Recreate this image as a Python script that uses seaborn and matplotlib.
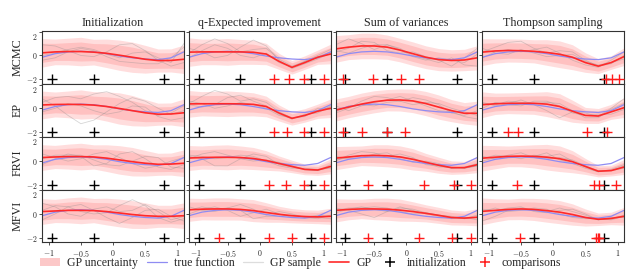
import numpy as np
import pandas as pd
import matplotlib
matplotlib.use("Agg")
import matplotlib.pyplot as plt
import seaborn as sns
from matplotlib.lines import Line2D
from matplotlib.patches import Patch

# ---------------- data ----------------
methods = ["MCMC", "EP", "FRVI", "MFVI"]
strategies = ["Initialization", "q-Expected improvement", "Sum of variances", "Thompson sampling"]
x_grid = [-1.1, -0.9, -0.7, -0.5, -0.3, -0.1, 0.1, 0.3, 0.5, 0.7, 0.9, 1.1]
true_function = [-0.15, 0.15, 0.3, 0.35, 0.3, 0.15, -0.05, -0.2, -0.3, -0.35, -0.2, 0.3]
x_ticks = [-1, -0.5, 0, 0.5, 1]
y_ticks = [-2, 0, 2]
marker_level = -2
init_points = [-0.95, -0.3, 0.79]

# comparisons per method (rows) and strategy (cols)
comp_mcmc = [[], [0.22, 0.45, 0.69, 1.0], [-0.98, -0.52, -0.08, 0.19], [0.82, 0.92, 1.02]]
comp_ep = [[], [0.22, 0.42, 0.69, 1.0], [-0.98, -0.69, -0.31, -0.02], [-0.7, -0.54, 0.52, 0.84]]
comp_frvi = [[], [0.14, 0.41, 0.69, 1.0], [-0.6, 0.27, 0.74, 1.01], [-0.57, 0.63, 0.71, 0.98]]
comp_mfvi = [[], [-0.64, 0.14, 0.5, 1.0], [-0.6, 0.19, 0.7, 1.0], [-0.51, 0.66, 0.69, 0.71]]

mean_mcmc = [
    [0.22, 0.3, 0.33, 0.33, 0.28, 0.18, 0.02, -0.15, -0.32, -0.43, -0.42, -0.32],
    [0.28, 0.3, 0.3, 0.3, 0.3, 0.27, 0.12, -0.5, -1.0, -0.6, -0.15, 0.12],
    [0.55, 0.7, 0.8, 0.8, 0.7, 0.45, 0.15, -0.15, -0.35, -0.42, -0.38, -0.2],
    [0.28, 0.38, 0.42, 0.4, 0.35, 0.25, 0.1, -0.15, -0.6, -0.9, -0.6, -0.1],
]
mean_ep = [
    [0.28, 0.32, 0.33, 0.32, 0.27, 0.15, -0.02, -0.2, -0.38, -0.5, -0.48, -0.38],
    [0.37, 0.38, 0.38, 0.38, 0.37, 0.33, 0.15, -0.4, -0.85, -0.6, -0.25, 0.0],
    [-0.15, 0.1, 0.35, 0.55, 0.68, 0.7, 0.62, 0.4, 0.1, -0.2, -0.42, -0.42],
    [0.3, 0.38, 0.42, 0.42, 0.42, 0.35, 0.15, -0.25, -0.6, -0.65, -0.3, 0.05],
]
mean_frvi = [
    [0.3, 0.35, 0.38, 0.38, 0.35, 0.25, 0.1, -0.05, -0.18, -0.27, -0.25, -0.18],
    [0.26, 0.3, 0.32, 0.32, 0.3, 0.22, 0.05, -0.2, -0.45, -0.7, -0.75, -0.45],
    [0.25, 0.35, 0.45, 0.48, 0.45, 0.35, 0.15, -0.1, -0.35, -0.55, -0.55, -0.3],
    [0.25, 0.33, 0.4, 0.42, 0.4, 0.33, 0.2, -0.05, -0.45, -0.85, -0.8, -0.5],
]
mean_mfvi = [
    [0.2, 0.25, 0.3, 0.3, 0.28, 0.2, 0.08, -0.05, -0.15, -0.2, -0.2, -0.15],
    [0.35, 0.4, 0.42, 0.42, 0.38, 0.28, 0.12, -0.03, -0.15, -0.22, -0.25, -0.2],
    [0.3, 0.38, 0.42, 0.42, 0.4, 0.32, 0.2, 0.05, -0.12, -0.3, -0.35, -0.28],
    [0.22, 0.3, 0.38, 0.42, 0.38, 0.28, 0.15, -0.05, -0.3, -0.45, -0.38, -0.2],
]

sd_mcmc = [
    [0.8, 0.72, 0.75, 0.8, 0.72, 0.8, 0.85, 0.85, 0.78, 0.65, 0.65, 0.8],
    [0.8, 0.72, 0.72, 0.75, 0.7, 0.68, 0.6, 0.45, 0.38, 0.38, 0.4, 0.55],
    [0.75, 0.7, 0.72, 0.72, 0.68, 0.66, 0.66, 0.64, 0.62, 0.6, 0.6, 0.68],
    [0.75, 0.68, 0.65, 0.65, 0.65, 0.72, 0.75, 0.7, 0.55, 0.42, 0.38, 0.5],
]
sd_ep = [
    [0.78, 0.7, 0.75, 0.82, 0.75, 0.82, 0.88, 0.85, 0.75, 0.62, 0.62, 0.78],
    [0.75, 0.68, 0.7, 0.72, 0.68, 0.65, 0.58, 0.45, 0.38, 0.38, 0.4, 0.52],
    [0.62, 0.6, 0.62, 0.62, 0.6, 0.62, 0.66, 0.68, 0.68, 0.62, 0.6, 0.68],
    [0.72, 0.6, 0.58, 0.6, 0.62, 0.7, 0.72, 0.62, 0.45, 0.42, 0.42, 0.55],
]
sd_frvi = [
    [0.72, 0.65, 0.7, 0.75, 0.68, 0.75, 0.8, 0.8, 0.72, 0.62, 0.62, 0.75],
    [0.7, 0.65, 0.68, 0.7, 0.65, 0.62, 0.55, 0.42, 0.35, 0.3, 0.3, 0.42],
    [0.65, 0.6, 0.55, 0.6, 0.62, 0.62, 0.6, 0.5, 0.45, 0.38, 0.35, 0.45],
    [0.72, 0.65, 0.58, 0.6, 0.65, 0.72, 0.72, 0.62, 0.45, 0.32, 0.3, 0.42],
]
sd_mfvi = [
    [0.72, 0.65, 0.7, 0.75, 0.68, 0.75, 0.78, 0.78, 0.72, 0.62, 0.62, 0.72],
    [0.65, 0.6, 0.62, 0.62, 0.6, 0.62, 0.55, 0.45, 0.4, 0.38, 0.38, 0.45],
    [0.65, 0.58, 0.55, 0.6, 0.62, 0.62, 0.55, 0.48, 0.45, 0.42, 0.4, 0.48],
    [0.75, 0.65, 0.58, 0.6, 0.62, 0.65, 0.65, 0.6, 0.48, 0.35, 0.35, 0.5],
]

samples_mcmc = [
    [[0.9, 0.8, 0.4, 0.0, -0.1, 0.3, 0.9, 1.0, 0.4, -0.4, -0.9, -0.6],
     [-0.4, -0.2, 0.3, 0.6, 0.4, -0.1, -0.5, -0.6, -0.7, -0.7, -0.2, 0.7],
     [0.0, 0.2, 0.5, 0.7, 0.5, 0.1, -0.2, 0.2, 0.3, -0.2, -0.6, 1.0]],
    [[0.2, 0.9, 1.4, 1.0, 0.3, 0.5, 0.6, -0.3, -0.9, -0.5, -0.1, 0.3],
     [0.6, 0.3, -0.2, 0.0, 0.7, 1.3, 0.8, -0.4, -1.1, -0.7, -0.3, 0.2],
     [-0.2, 0.4, 0.9, 0.6, 0.0, -0.2, 0.2, -0.6, -1.0, -0.5, 0.0, 0.5]],
    [[0.9, 1.4, 1.0, 0.5, 0.9, 0.6, 0.0, -0.3, -0.6, -0.2, -0.8, -0.9],
     [0.3, 0.6, 1.2, 1.1, 0.4, 0.2, 0.3, -0.1, -0.4, -0.9, -0.2, 0.6],
     [0.4, 0.2, 0.6, 0.9, 0.9, 0.5, -0.1, -0.4, -0.2, -0.4, -0.6, 0.1]],
    [[0.3, 0.7, 1.1, 1.2, 0.6, 0.2, 0.4, 0.3, -0.4, -0.9, -0.7, 0.0],
     [-0.2, 0.3, 0.5, 0.3, 0.5, 0.7, 0.2, -0.4, -0.8, -1.0, -0.4, 0.3],
     [0.6, 0.2, 0.1, 0.5, 0.2, -0.1, 0.0, 0.1, -0.5, -0.8, -0.6, -0.3]],
]
samples_ep = [
    [[0.5, 0.9, 1.0, 0.8, 1.2, 1.4, 1.0, 0.5, -0.2, -0.6, -0.4, 0.2],
     [-0.3, 0.0, 0.4, 0.2, -0.2, -0.5, -0.3, 0.2, 0.1, -0.7, -1.0, -0.8],
     [0.8, 0.2, -0.6, -1.3, -1.0, -0.3, 0.4, 0.9, 0.6, 0.0, -0.5, -0.2]],
    [[0.4, 1.0, 1.5, 1.2, 0.6, 0.8, 0.5, -0.3, -0.8, -0.6, -0.2, 0.1],
     [0.3, 0.1, 0.3, 0.9, 1.1, 0.6, 0.2, -0.5, -0.9, -0.5, -0.4, 0.2],
     [0.6, 0.4, 0.0, 0.2, 0.5, 0.3, 0.0, -0.6, -0.8, -0.7, 0.0, -0.1]],
    [[-0.4, 0.0, 0.6, 1.0, 0.9, 0.6, 0.9, 0.7, 0.3, -0.4, -0.6, -0.2],
     [0.2, -0.2, 0.2, 0.5, 0.7, 1.0, 0.6, 0.2, -0.2, -0.3, -0.7, -0.9],
     [-0.3, 0.2, 0.3, 0.2, 0.5, 0.6, 0.3, 0.5, 0.4, 0.0, -0.3, -0.6]],
    [[0.5, 0.2, 0.4, 0.7, 0.3, -0.2, -0.8, -0.3, -0.4, -0.7, 0.0, 0.8],
     [0.0, 0.5, 0.3, 0.2, 0.6, 0.6, 0.2, -0.4, -0.6, -0.5, -0.5, -0.1],
     [0.4, 0.3, 0.6, 0.5, 0.4, 0.5, 0.4, -0.2, -0.8, -0.8, -0.1, 0.4]],
]
samples_frvi = [
    [[-0.3, 0.2, 0.6, 0.4, -0.4, -0.2, 0.6, 0.8, 0.2, -0.5, -0.7, -0.3],
     [0.6, 0.3, 0.0, 0.2, 0.6, 0.8, 0.3, -0.2, -0.6, -0.4, 0.0, 0.3],
     [0.2, 0.5, 0.5, 0.5, 0.1, -0.3, -0.4, 0.0, 0.4, 0.3, -0.5, -0.6]],
    [[0.4, 0.2, -0.4, -0.4, 0.2, 0.6, 0.4, -0.3, -0.5, -0.7, -0.8, -0.5],
     [0.2, 0.6, 0.8, 0.5, 0.2, 0.0, 0.1, -0.1, -0.4, -0.7, -0.8, -0.3],
     [0.5, 0.4, 0.2, 0.3, 0.5, 0.4, 0.0, -0.4, -0.6, -0.6, -0.7, -0.6]],
    [[0.0, 0.5, 0.8, 0.7, 0.3, 0.4, 0.2, -0.2, -0.5, -0.5, -0.6, -0.4],
     [0.4, 0.2, 0.3, 0.6, 0.7, 0.2, -0.1, 0.0, -0.2, -0.6, -0.5, -0.2],
     [0.1, 0.3, 0.5, 0.3, 0.4, 0.6, 0.3, -0.3, -0.4, -0.6, -0.6, -0.4]],
    [[0.2, 0.5, 0.4, 0.2, 0.5, 0.4, 0.6, 0.0, -0.5, -0.9, -0.8, -0.4],
     [0.4, 0.2, 0.5, 0.7, 0.3, 0.2, 0.3, 0.1, -0.4, -0.8, -0.8, -0.6],
     [0.0, 0.3, 0.3, 0.4, 0.4, 0.7, 0.1, -0.2, -0.6, -0.9, -0.7, -0.3]],
]
samples_mfvi = [
    [[0.9, 0.6, 0.0, -0.2, 0.4, 0.6, 0.2, 0.3, 0.8, 0.2, -0.5, -0.2],
     [-0.5, 0.0, 0.6, 0.8, 0.3, -0.3, -0.8, -0.3, 0.3, 0.4, -0.2, -0.6],
     [0.3, 0.7, 0.6, 0.2, 0.0, 0.1, 0.7, 1.2, 0.7, -0.3, -0.7, -0.4]],
    [[0.6, 0.3, 0.2, 0.5, 0.8, 0.4, -0.1, 0.2, 0.0, -0.3, -0.4, -0.1],
     [0.0, 0.4, 0.6, 0.3, -0.2, 0.1, 0.4, 0.0, -0.3, -0.2, -0.3, -0.4],
     [0.3, 0.6, 0.4, 0.5, 0.3, -0.4, -0.2, -0.2, -0.1, -0.3, -0.1, -0.2]],
    [[0.1, 0.4, 0.6, 0.4, 0.2, 0.5, 0.4, 0.1, -0.1, -0.3, -0.4, -0.1],
     [0.5, 0.3, 0.0, -0.3, 0.2, 0.6, 0.3, 0.0, -0.2, -0.4, -0.3, -0.5],
     [0.3, 0.5, 0.5, 0.6, 0.5, 0.2, 0.0, 0.1, -0.1, -0.2, -0.4, -0.3]],
    [[-0.6, -0.2, 0.3, 0.5, 0.3, 0.2, 0.5, 0.2, -0.1, -0.5, -0.4, -0.1],
     [0.4, 0.3, 0.5, 0.6, 0.2, 0.1, 0.3, 0.4, 0.0, -0.5, -0.3, -0.3],
     [0.2, 0.5, 0.2, 0.3, 0.5, 0.4, 0.0, -0.3, -0.4, -0.4, -0.5, -0.2]],
]

means = [mean_mcmc, mean_ep, mean_frvi, mean_mfvi]
sds = [sd_mcmc, sd_ep, sd_frvi, sd_mfvi]
samples = [samples_mcmc, samples_ep, samples_frvi, samples_mfvi]
comparisons = [comp_mcmc, comp_ep, comp_frvi, comp_mfvi]

# ---------------- style ----------------
sns.set_theme(style="ticks")
plt.rcParams["font.family"] = ["Liberation Serif", "DejaVu Serif"]
plt.rcParams["mathtext.fontset"] = "cm"

RED = "#ff2a2a"
BLUE = "#8f8cf2"
BAND = "#ff3030"
GRAY = "#8a8a8a"

fig, axes = plt.subplots(4, 4, figsize=(6.4, 2.73), dpi=100, sharex=True, sharey=True)
fig.subplots_adjust(left=0.066, right=0.975, top=0.886, bottom=0.112, wspace=0.036, hspace=0.0)

x = np.array(x_grid)
for r in range(4):
    for c in range(4):
        ax = axes[r, c]
        m = np.array(means[r][c])
        s = np.array(sds[r][c])
        ax.fill_between(x, m - 1.5 * s, m + 1.5 * s, color=BAND, alpha=0.16, lw=0)
        ax.fill_between(x, m - s, m + s, color=BAND, alpha=0.16, lw=0)
        for smp in samples[r][c]:
            sns.lineplot(x=x_grid, y=smp, ax=ax, color=GRAY, lw=0.6, alpha=0.35)
        sns.lineplot(x=x_grid, y=true_function, ax=ax, color=BLUE, lw=0.9)
        sns.lineplot(x=x_grid, y=means[r][c], ax=ax, color=RED, lw=1.2)
        sns.scatterplot(x=init_points, y=[marker_level] * len(init_points), ax=ax,
                        marker="+", color="black", s=42, linewidth=1.0, zorder=5)
        cp = comparisons[r][c]
        if cp:
            sns.scatterplot(x=cp, y=[marker_level] * len(cp), ax=ax,
                            marker="+", color="#ff1a1a", s=42, linewidth=1.0, zorder=6)
        ax.set_xlim(-1.1, 1.1)
        ax.set_ylim(-2.4, 2.05)
        ax.set_xticks(x_ticks)
        ax.set_yticks(y_ticks)
        ax.set_xticklabels([f"${t:g}$" for t in x_ticks])
        ax.set_yticklabels([f"${t:g}$" for t in y_ticks])
        ax.tick_params(axis="both", which="major", labelsize=5.7, length=2.2, width=0.6,
                       direction="out", pad=1.5, color="#333333")
        for sp in ax.spines.values():
            sp.set_color("#333333")
            sp.set_linewidth(0.8)
        ax.set_xlabel("")
        ax.set_ylabel("")
        if r == 0:
            ax.set_title(strategies[c], fontsize=8.7, pad=4)
    pos = axes[r, 0].get_position()
    fig.text(0.027, (pos.y0 + pos.y1) / 2, methods[r], rotation=90, fontsize=8.7,
             ha="center", va="center")

# keep the top "2" label of each row from colliding with the "-2" of the row above
for r in range(4):
    top_tick = axes[r, 0].yaxis.get_major_ticks()[-1]
    top_tick.label1.set_verticalalignment("top")

handles = [
    Patch(facecolor="#fcc8c8", edgecolor="none"),
    Line2D([], [], color=BLUE, lw=0.9),
    Line2D([], [], color="#dddddd", lw=0.9),
    Line2D([], [], color=RED, lw=1.2),
    Line2D([], [], color="black", marker="+", ls="none", markersize=7, mew=1.1),
    Line2D([], [], color="#ff1a1a", marker="+", ls="none", markersize=7, mew=1.1),
]
labels = ["GP uncertainty", "true function", "GP sample", "GP", "initialization", "comparisons"]
fig.legend(handles, labels, loc="lower center", ncol=6, frameon=False, fontsize=8.5,
           bbox_to_anchor=(0.47, -0.012), handlelength=1.7, columnspacing=0.7,
           handletextpad=0.6, borderpad=0.1)

fig.savefig("out.png", dpi=100)
